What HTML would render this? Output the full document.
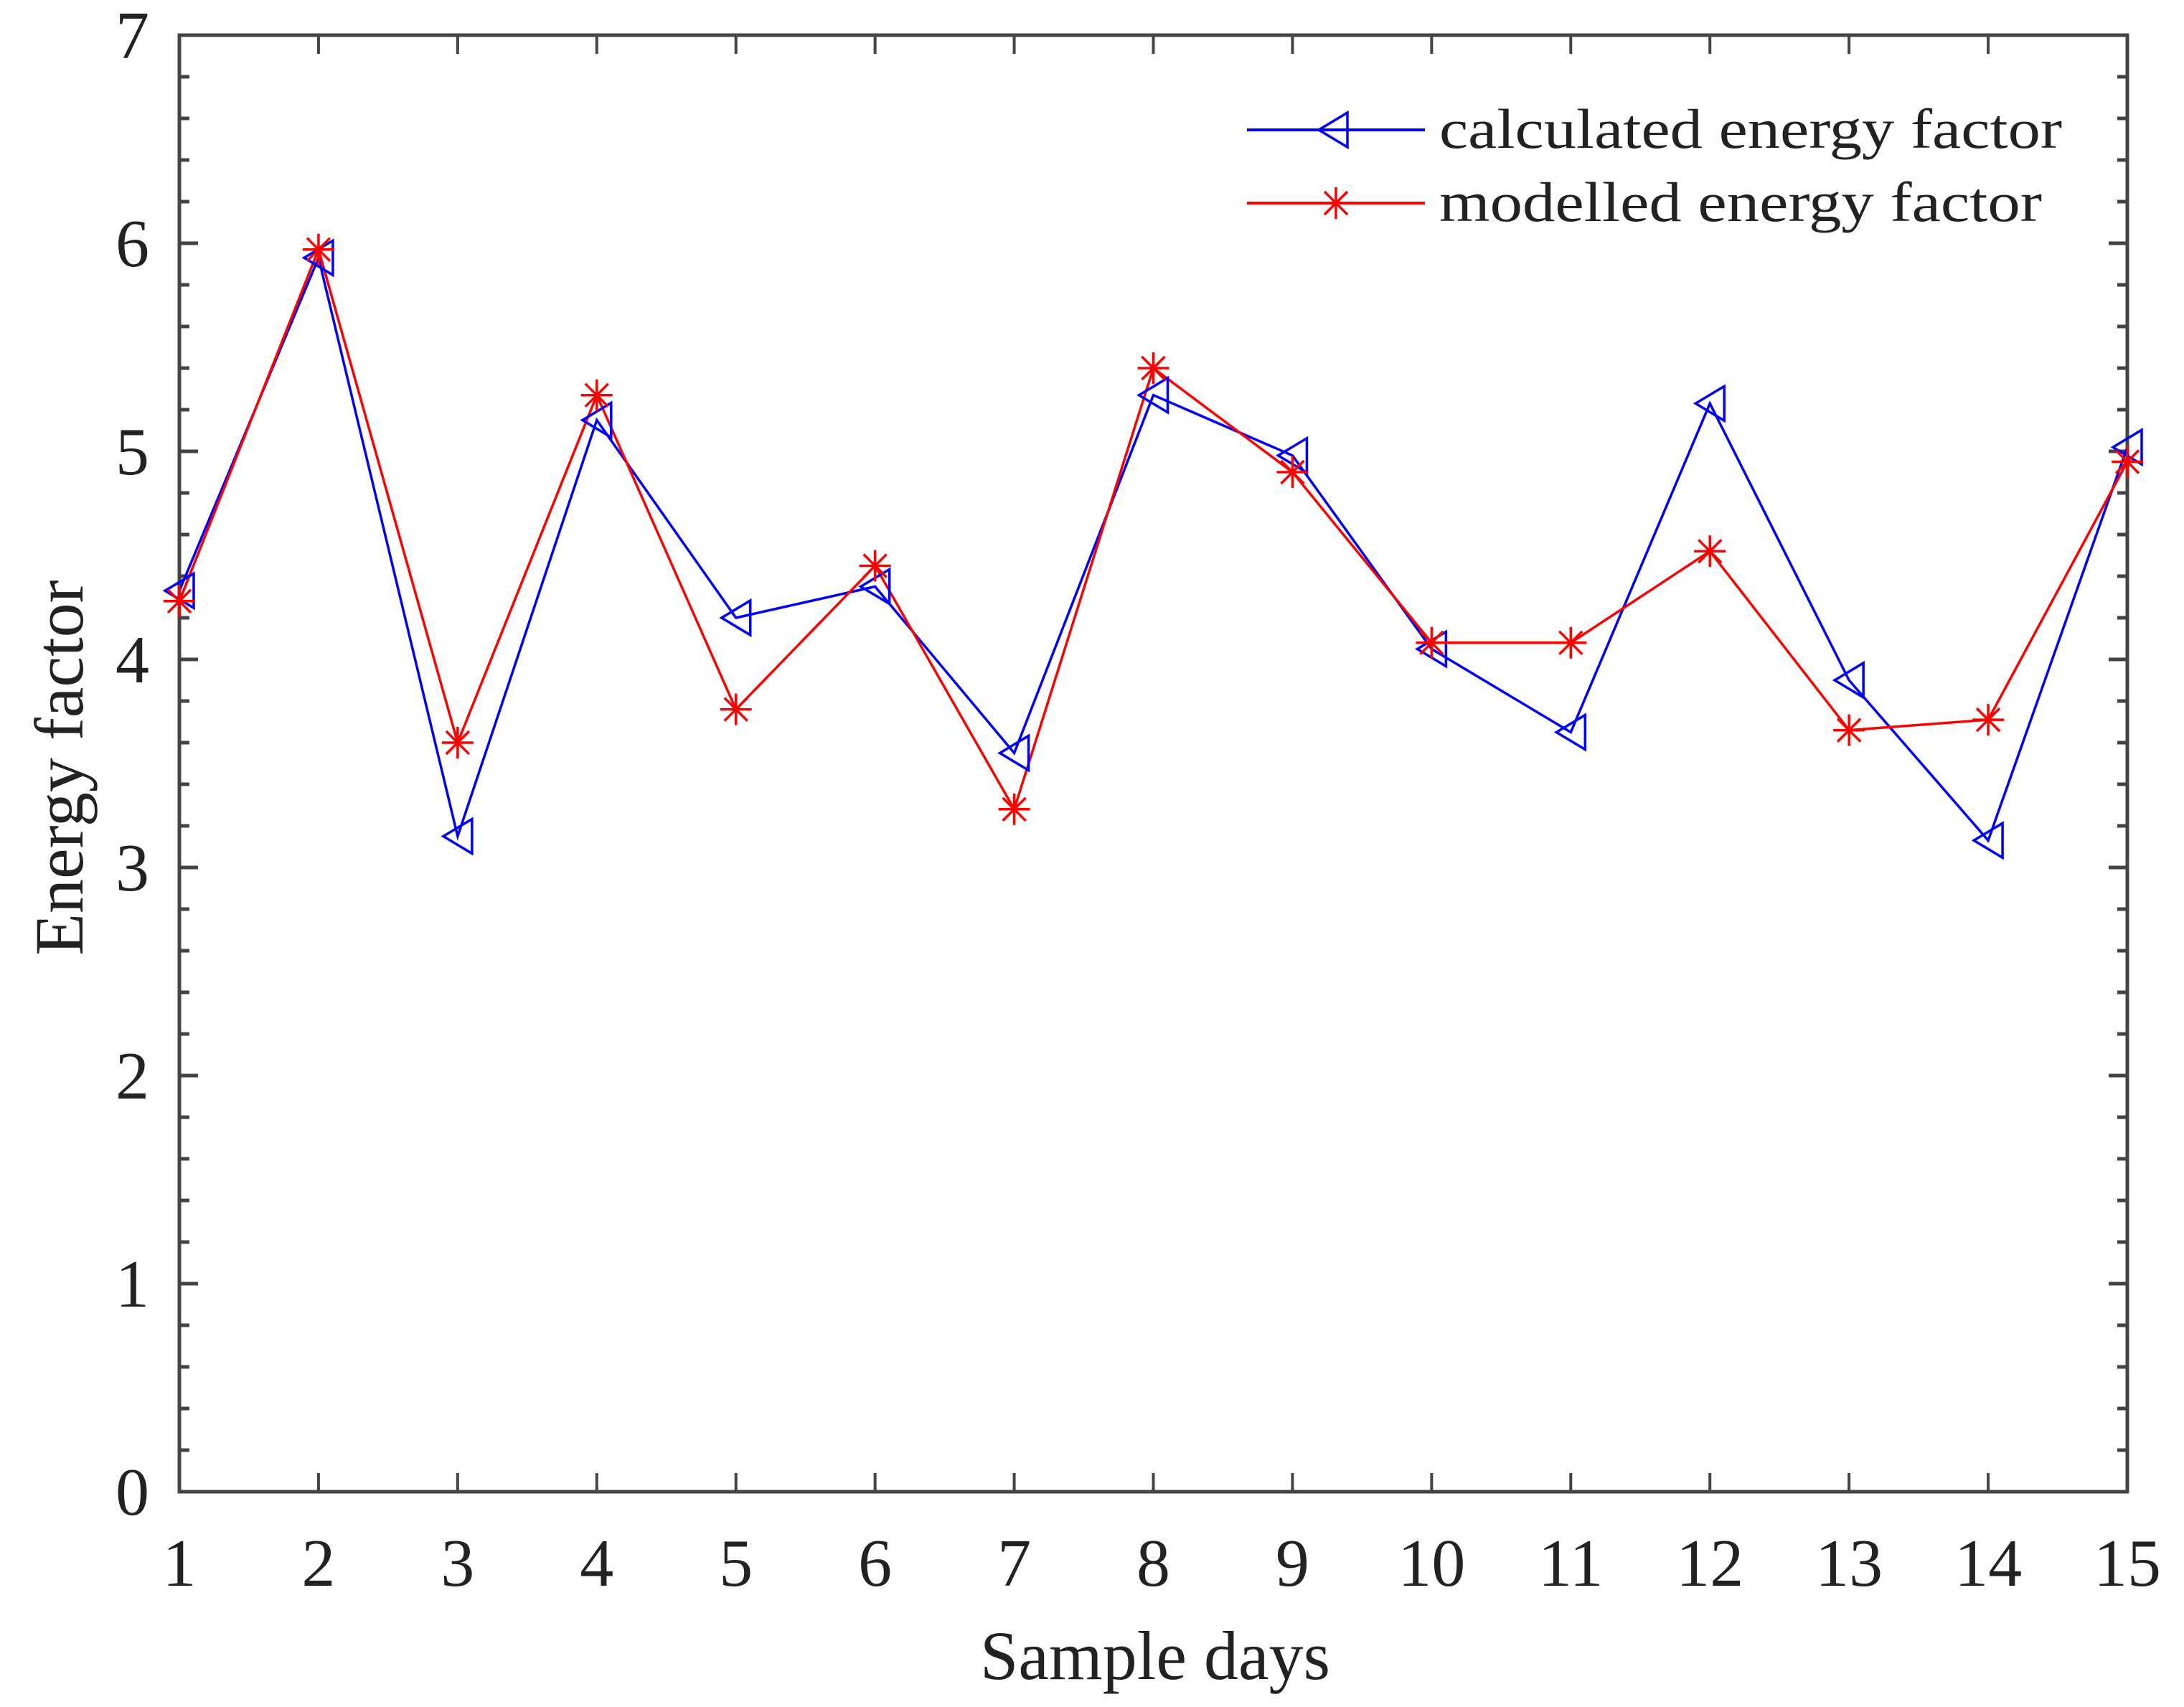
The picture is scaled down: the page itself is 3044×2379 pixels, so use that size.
<!DOCTYPE html>
<html><head><meta charset="utf-8"><style>
html,body{margin:0;padding:0;background:#fff;}
svg{display:block;}
text{font-family:"Liberation Serif",serif;fill:#222;}
</style></head><body>
<svg id="chart" width="3044" height="2379" viewBox="0 0 3044 2379" xmlns="http://www.w3.org/2000/svg">
<g id="axes"></g>
<g id="series"></g>
<g id="legend">
  <line x1="1738" y1="181" x2="1986" y2="181" stroke="#0000ff" stroke-width="4"/>
  <path d="M1838,181 L1878,157 L1878,205 Z" fill="none" stroke="#0000ff" stroke-width="3.5"/>
  <text x="2006" y="206" font-size="78" textLength="868" lengthAdjust="spacingAndGlyphs">calculated energy factor</text>
  <line x1="1738" y1="283" x2="1986" y2="283" stroke="#ff0000" stroke-width="4"/>
  <g stroke="#ff0000" stroke-width="3.5">
    <line x1="1862" y1="261" x2="1862" y2="305"/><line x1="1840" y1="283" x2="1884" y2="283"/>
    <line x1="1846" y1="267" x2="1878" y2="299"/><line x1="1846" y1="299" x2="1878" y2="267"/>
  </g>
  <text x="2006" y="308" font-size="78" textLength="840" lengthAdjust="spacingAndGlyphs">modelled energy factor</text>
</g>
<text x="1610" y="2340" font-size="96" text-anchor="middle">Sample days</text>
<text transform="translate(115,1070) rotate(-90)" font-size="96" text-anchor="middle">Energy factor</text>
</svg>
<script>
const days = [1,2,3,4,5,6,7,8,9,10,11,12,13,14,15];
const calculated = [4.33,5.93,3.15,5.15,4.2,4.35,3.55,5.27,4.98,4.05,3.65,5.23,3.9,3.13,5.02];
const modelled = [4.28,5.97,3.6,5.27,3.76,4.45,3.28,5.4,4.9,4.08,4.08,4.52,3.66,3.71,4.95];
const yTicks = [0,1,2,3,4,5,6,7];
const xTicks = [1,2,3,4,5,6,7,8,9,10,11,12,13,14,15];

const NS = "http://www.w3.org/2000/svg";
const L=250,R=2965,T=49,B=2079;
const xs = d => L + (d-1)/(14)*(R-L);
const ys = v => B - v/7*(B-T);
function mk(tag, attrs, parent){const e=document.createElementNS(NS,tag);for(const k in attrs)e.setAttribute(k,attrs[k]);parent.appendChild(e);return e;}
const axes=document.getElementById('axes'), ser=document.getElementById('series');
const frame = mk('rect',{x:L,y:T,width:R-L,height:B-T,fill:'none',stroke:'#444','stroke-width':5},axes);


for(let v=0; v<=7.001; v+=0.2){
  const y=ys(v); const major=Math.abs(v-Math.round(v))<0.01; const len=major?26:14;
  mk('line',{x1:L,y1:y,x2:L+len,y2:y,stroke:'#444','stroke-width':5},axes);
  mk('line',{x1:R,y1:y,x2:R-len,y2:y,stroke:'#444','stroke-width':5},axes);
}
yTicks.forEach(v=>{
  const t=mk('text',{x:208,y:ys(v)+32,'font-size':94,'text-anchor':'end'},axes);
  t.textContent=v;
  
  
});
xTicks.forEach(d=>{
  const x=xs(d);
  mk('line',{x1:x,y1:B,x2:x,y2:B-26,stroke:'#444','stroke-width':4},axes);
  mk('line',{x1:x,y1:T,x2:x,y2:T+26,stroke:'#444','stroke-width':4},axes);
  const t=mk('text',{x:x,y:2210,'font-size':94,'text-anchor':'middle'},axes);
  t.textContent=d;
  
  
});
const bl=mk('polyline',{points:days.map((d,i)=>xs(d)+','+ys(calculated[i])).join(' '),fill:'none',stroke:'#0000ff','stroke-width':3.5},ser);


const rl=mk('polyline',{points:days.map((d,i)=>xs(d)+','+ys(modelled[i])).join(' '),fill:'none',stroke:'#ff0000','stroke-width':3.5},ser);


days.forEach((d,i)=>{
  const x=xs(d), y=ys(calculated[i]);
  const p=mk('path',{d:`M${x-20},${y} L${x+20},${y-24} L${x+20},${y+24} Z`,fill:'none',stroke:'#0000ff','stroke-width':3.5},ser);
  
  
});
days.forEach((d,i)=>{
  const x=xs(d), y=ys(modelled[i]);
  const g=mk('g',{stroke:'#ff0000','stroke-width':3.5},ser);
  
  
  mk('line',{x1:x,y1:y-22,x2:x,y2:y+22},g);
  mk('line',{x1:x-22,y1:y,x2:x+22,y2:y},g);
  mk('line',{x1:x-16,y1:y-16,x2:x+16,y2:y+16},g);
  mk('line',{x1:x-16,y1:y+16,x2:x+16,y2:y-16},g);
});
</script>
</body></html>
